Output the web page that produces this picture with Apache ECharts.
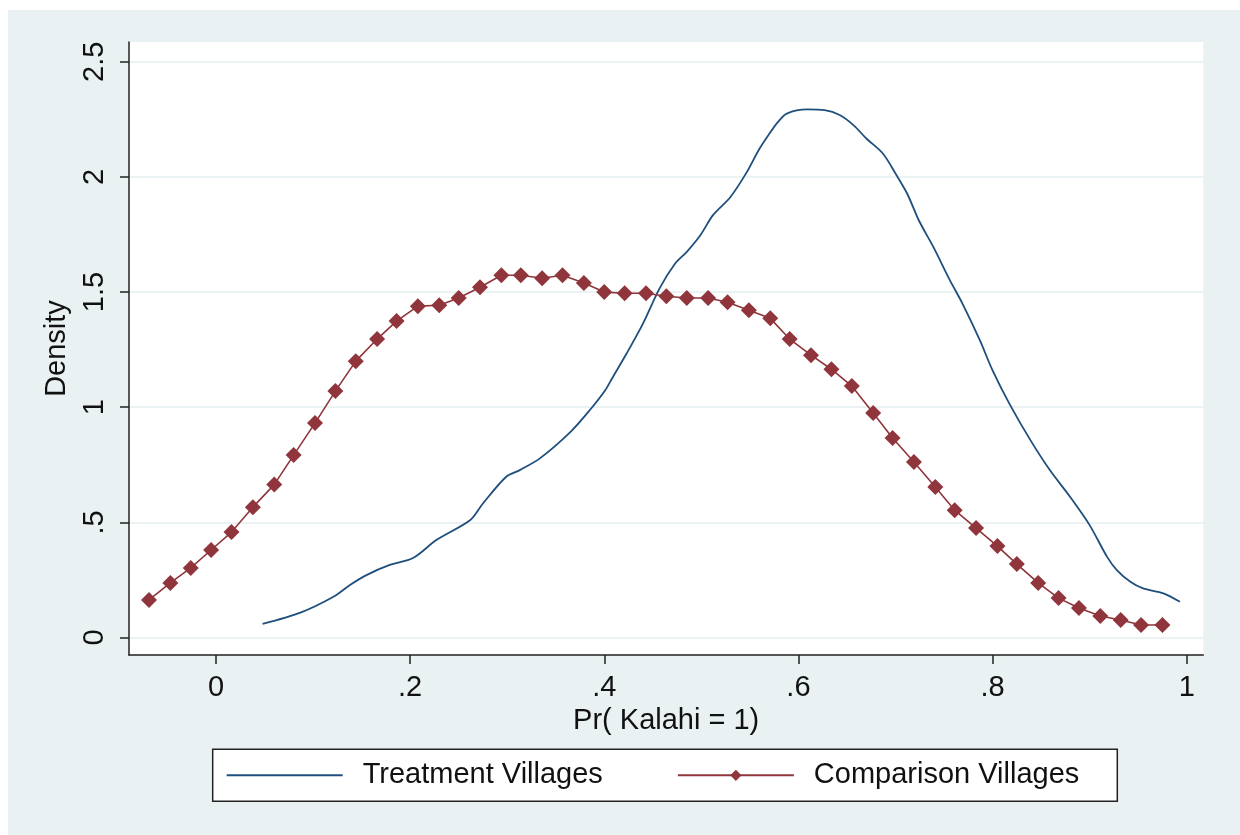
<!DOCTYPE html>
<html>
<head>
<meta charset="utf-8">
<script src="https://cdn.jsdelivr.net/npm/echarts@6/dist/echarts.min.js"></script>
<style>
html,body{margin:0;padding:0;background:#fff;}
#c{width:1240px;height:835px;}
</style>
</head>
<body>
<div id="c"></div>
<script>
const xTicks = [0, 0.2, 0.4, 0.6, 0.8, 1];
const yTicks = [0, 0.5, 1, 1.5, 2, 2.5];
const seriesNames = ['Treatment Villages', 'Comparison Villages'];

const treatment = [
  [0.048,0.059],[0.087,0.108],[0.121,0.177],[0.138,0.228],[0.155,0.271],[0.179,0.315],
  [0.203,0.345],[0.227,0.423],[0.262,0.510],[0.275,0.582],[0.299,0.698],[0.313,0.727],
  [0.334,0.779],[0.365,0.892],[0.385,0.987],[0.401,1.074],[0.408,1.125],[0.423,1.233],
  [0.440,1.364],[0.457,1.516],[0.473,1.624],[0.485,1.675],[0.499,1.747],[0.512,1.834],
  [0.530,1.913],[0.547,2.022],[0.559,2.116],[0.569,2.181],[0.579,2.239],[0.588,2.275],
  [0.609,2.293],[0.627,2.290],[0.643,2.268],[0.657,2.224],[0.670,2.167],[0.687,2.102],
  [0.700,2.015],[0.712,1.928],[0.724,1.812],[0.739,1.696],[0.756,1.552],[0.769,1.450],
  [0.787,1.290],[0.800,1.160],[0.818,1.010],[0.839,0.857],[0.859,0.727],[0.880,0.610],
  [0.900,0.488],[0.918,0.350],[0.928,0.293],[0.942,0.242],[0.955,0.213],[0.976,0.192],
  [0.993,0.155]
];

const comparison = [
  [-0.069,0.163],[-0.047,0.237],[-0.026,0.302],[-0.005,0.380],[0.016,0.458],[0.038,0.566],
  [0.060,0.664],[0.080,0.792],[0.102,0.931],[0.123,1.070],[0.144,1.200],[0.166,1.296],
  [0.186,1.374],[0.208,1.439],[0.230,1.443],[0.250,1.474],[0.272,1.521],[0.294,1.573],
  [0.314,1.573],[0.336,1.560],[0.357,1.573],[0.379,1.539],[0.400,1.500],[0.421,1.495],
  [0.443,1.495],[0.464,1.482],[0.485,1.474],[0.507,1.474],[0.527,1.456],[0.549,1.421],
  [0.571,1.386],[0.591,1.296],[0.613,1.226],[0.634,1.165],[0.655,1.092],[0.677,0.975],
  [0.697,0.866],[0.719,0.762],[0.741,0.654],[0.761,0.553],[0.783,0.475],[0.805,0.397],
  [0.825,0.319],[0.847,0.237],[0.868,0.171],[0.889,0.128],[0.911,0.093],[0.932,0.076],
  [0.953,0.054],[0.975,0.054]
];

const FONT = '"Liberation Sans", Arial, sans-serif';
const fmt = v => {
  let s = String(Math.round(v * 100) / 100);
  if (s.startsWith('0.')) s = s.slice(1);
  return s;
};

const chart = echarts.init(document.getElementById('c'), null, {renderer: 'canvas'});
chart.setOption({
  animation: false,
  backgroundColor: '#ffffff',
  graphic: [{
    type: 'rect', z: -10, silent: true,
    shape: {x: 8, y: 10, width: 1232, height: 825},
    style: {fill: '#eaf1f3'}
  }],
  textStyle: {fontFamily: FONT},
  grid: {
    left: 129, top: 42, right: 36.7, bottom: 180,
    show: true, backgroundColor: '#ffffff', borderWidth: 0
  },
  xAxis: {
    type: 'value',
    min: -0.0896, max: 1.0171,
    name: 'Pr( Kalahi = 1)',
    nameLocation: 'middle',
    nameGap: 40,
    nameTextStyle: {fontSize: 29, color: '#111', fontFamily: FONT},
    axisLine: {show: true, onZero: false, lineStyle: {color: '#222', width: 1.5}},
    axisTick: {show: true, length: 9, customValues: xTicks, lineStyle: {color: '#222', width: 1.5}},
    axisLabel: {customValues: xTicks, formatter: fmt, fontSize: 29, color: '#111', margin: 18, fontFamily: FONT},
    splitLine: {show: false}
  },
  yAxis: {
    type: 'value',
    min: -0.076, max: 2.586,
    name: 'Density',
    nameLocation: 'middle',
    nameRotate: 90,
    nameGap: 58,
    nameTextStyle: {fontSize: 29, color: '#111', fontFamily: FONT},
    axisLine: {show: true, onZero: false, lineStyle: {color: '#222', width: 1.5}},
    axisTick: {show: true, length: 9, customValues: yTicks, lineStyle: {color: '#222', width: 1.5}},
    axisLabel: {customValues: yTicks, formatter: fmt, rotate: 90, fontSize: 29, color: '#111', margin: 20, fontFamily: FONT},
    splitLine: {show: true, lineStyle: {color: '#eaf2f3', width: 2}}
  },
  legend: {
    left: 212.7, top: 749.3,
    orient: 'horizontal',
    data: [
      {name: seriesNames[0], itemStyle: {opacity: 0}},
      {name: seriesNames[1]}
    ],
    itemWidth: 116, itemHeight: 14, itemGap: 74,
    padding: [11, 38, 11, 13],
    borderColor: '#222', borderWidth: 1.5,
    backgroundColor: '#ffffff',
    textStyle: {fontSize: 29, color: '#111', lineHeight: 30, padding: [0, 0, 0, 15], fontFamily: FONT}
  },
  series: [
    {
      name: seriesNames[0],
      type: 'line',
      data: treatment,
      showSymbol: false,
      symbol: 'none',
      smooth: 0.3,
      lineStyle: {color: '#1f4f7d', width: 1.8},
      itemStyle: {color: '#1f4f7d'}
    },
    {
      name: seriesNames[1],
      type: 'line',
      data: comparison,
      symbol: 'diamond',
      symbolSize: 16,
      lineStyle: {color: '#90353b', width: 1.6},
      itemStyle: {color: '#90353b'}
    }
  ]
});
</script>
</body>
</html>
